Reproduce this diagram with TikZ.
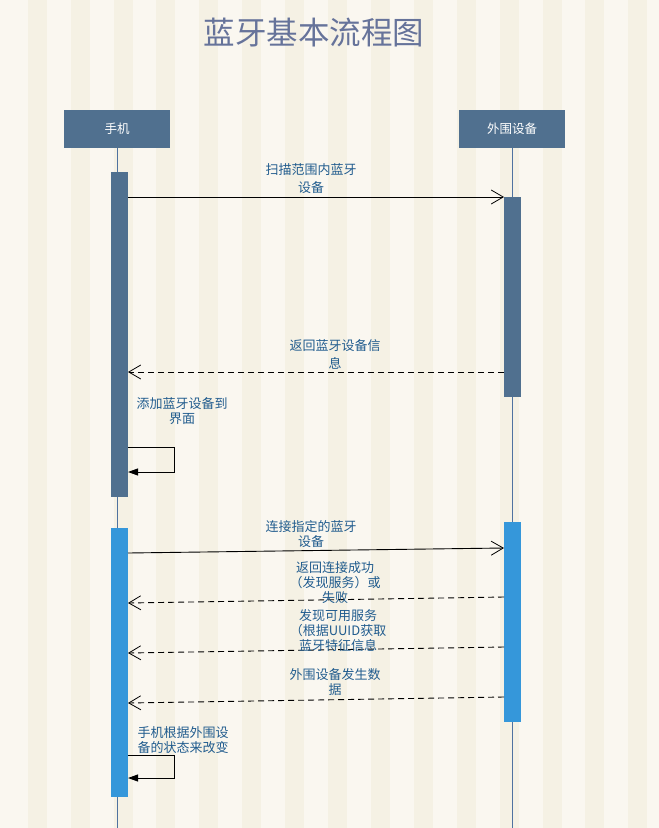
\documentclass[tikz,border=0pt]{standalone}
\usepackage{fontspec}
\setmainfont{Noto Sans CJK SC}
\usetikzlibrary{arrows.meta}
\definecolor{bglight}{HTML}{FAF7F0}
\definecolor{bgdark}{HTML}{F5F1E4}
\definecolor{slate}{HTML}{50708F}
\definecolor{bright}{HTML}{3597DA}
\definecolor{lbl}{HTML}{215C8E}
\definecolor{ttl}{HTML}{66739A}
\definecolor{life}{HTML}{4F72A0}
\tikzset{
  header/.style={fill=slate, text=white, minimum width=106pt, minimum height=38pt, inner sep=0pt, font=\fontsize{12.5}{14}\selectfont},
  barA/.style={fill=slate, minimum width=17pt, inner sep=0pt, anchor=north},
  barB/.style={fill=bright, minimum width=17pt, inner sep=0pt, anchor=north},
  lifeline/.style={draw=life, line width=0.8pt},
  msg/.style={draw=black, line width=0.9pt, -{Straight Barb[length=12pt,width=14pt,line width=0.8pt]}},
  ret/.style={msg, dash pattern=on 6pt off 4pt},
  selfmsg/.style={draw=black, line width=0.9pt, -{Triangle[length=10pt,width=7pt]}},
  lab/.style={text=lbl, align=center, inner sep=0pt, font=\fontsize{13}{15}\selectfont},
}
\begin{document}
\begin{tikzpicture}[x=1pt,y=-1pt]
% background
\fill[bglight] (0,0) rectangle (659,828);
\foreach \i in {0,...,14} {
  \fill[bgdark] ({27.7+42.9*\i},0) rectangle ({27.7+42.9*\i+19},828);
}
\useasboundingbox (0,0) rectangle (659,828);
% title
\node[text=ttl, font=\fontsize{31.5}{34}\selectfont] (title) at (314,33) {蓝牙基本流程图};
% headers
\node[header] (h1) at (117,129) {手机};
\node[header] (h2) at (512,129) {外围设备};
\coordinate (e1) at (117,828);
\coordinate (e2) at (512,828);
\draw[lifeline] (h1.south) -- (e1);
\draw[lifeline] (h2.south) -- (e2);
% activation bars
\node[barA, minimum height=325pt] (b1) at (119.5,172) {};
\node[barA, minimum height=200pt] (b2) at (512.5,197) {};
\node[barB, minimum height=269pt] (b3) at (119.5,528) {};
\node[barB, minimum height=200pt] (b4) at (512.3,522) {};
% message endpoints
\coordinate (m1a) at (128,197);  \coordinate (m1b) at (504,197);
\coordinate (m2a) at (504,372);  \coordinate (m2b) at (128,372);
\coordinate (s1a) at (128,447);  \coordinate (s1b) at (174,447);
\coordinate (s1c) at (174,472);  \coordinate (s1d) at (128,472);
\coordinate (m3a) at (128,553);  \coordinate (m3b) at (504,548);
\coordinate (m4a) at (504,597);  \coordinate (m4b) at (128,603);
\coordinate (m5a) at (504,647);  \coordinate (m5b) at (128,653);
\coordinate (m6a) at (504,697);  \coordinate (m6b) at (128,703);
\coordinate (s2a) at (128,755);  \coordinate (s2b) at (174,755);
\coordinate (s2c) at (174,778);  \coordinate (s2d) at (128,778);
% messages
\draw[msg] (m1a) -- (m1b);
\draw[ret] (m2a) -- (m2b);
\draw[selfmsg] (s1a) -- (s1b) -- (s1c) -- (s1d);
\draw[msg] (m3a) -- (m3b);
\draw[ret] (m4a) -- (m4b);
\draw[ret] (m5a) -- (m5b);
\draw[ret] (m6a) -- (m6b);
\draw[selfmsg] (s2a) -- (s2b) -- (s2c) -- (s2d);
% labels
\node[lab] (l1) at (311,179) {扫描范围内蓝牙\\[3pt]设备};
\node[lab] (l2) at (335,354) {返回蓝牙设备信\\[3pt]息};
\node[lab] (l3) at (182,411) {添加蓝牙设备到\\界面};
\node[lab] (l4) at (311,534) {连接指定的蓝牙\\设备};
\node[lab] (l5) at (335,582.5) {返回连接成功\\（发现服务）或\\失败};
\node[lab] (l6) at (338,631) {发现可用服务\\（根据UUID获取\\蓝牙特征信息};
\node[lab] (l7) at (335,682.5) {外围设备发生数\\据};
\node[lab] (l8) at (183,740) {手机根据外围设\\备的状态来改变};
\end{tikzpicture}
\end{document}
